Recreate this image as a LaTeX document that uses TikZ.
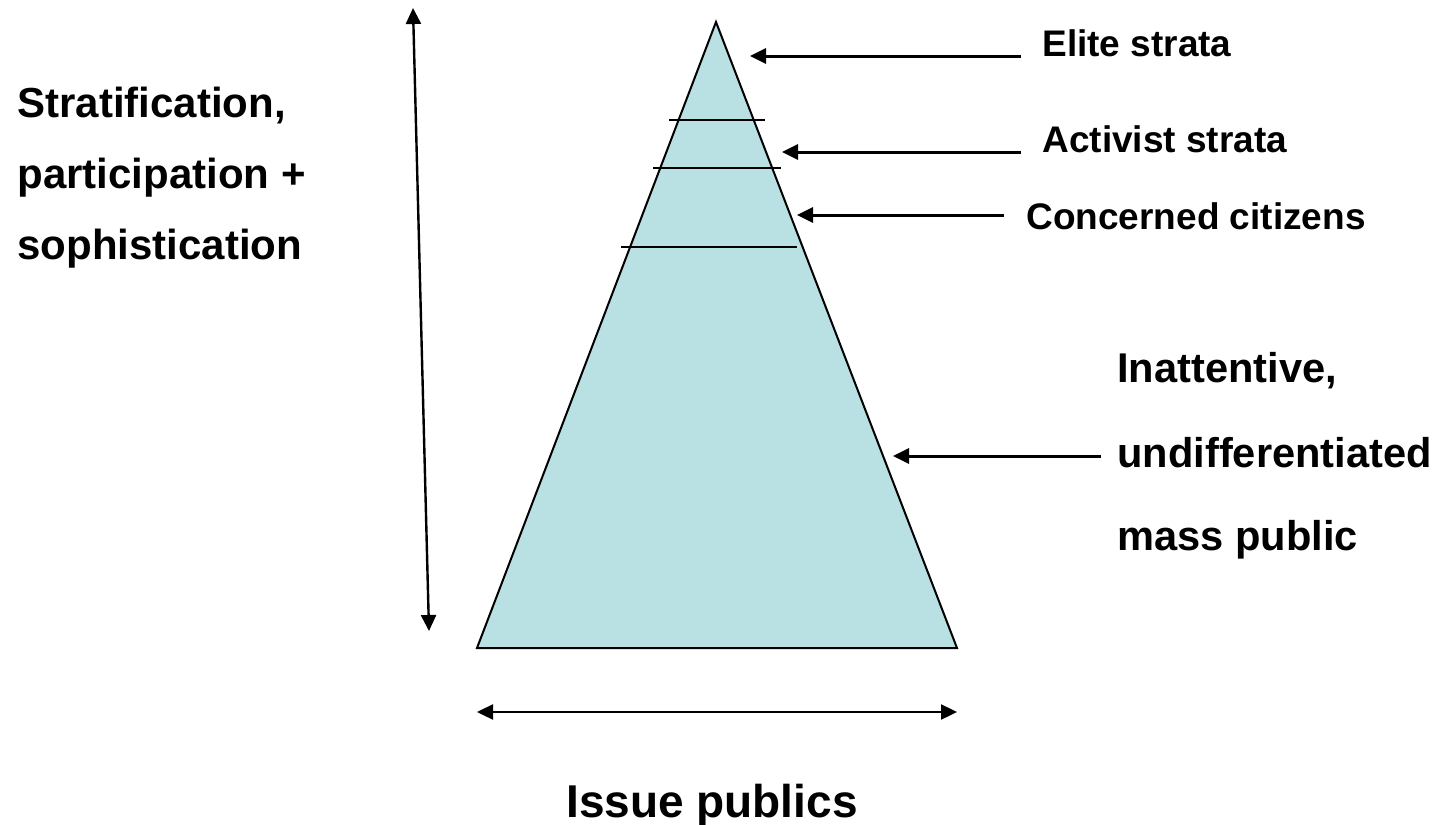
\documentclass[tikz,border=0pt]{standalone}
\usepackage{fontspec}
\setmainfont{Liberation Sans}
\usetikzlibrary{arrows.meta}
\definecolor{pyr}{RGB}{185,224,227}
\begin{document}
\begin{tikzpicture}[x=0.5pt,y=-0.5pt,
  arr/.style={line width=1.5pt,-{Triangle[length=8pt,width=7.5pt]}},
  darr/.style={line width=1.2pt,{Triangle[length=8pt,width=7.5pt]}-{Triangle[length=8pt,width=7.5pt]}},
  strat/.style={line width=1pt},
  lab/.style={inner sep=0pt,anchor=base west,font=\bfseries\fontsize{18.5}{22}\selectfont},
  big/.style={inner sep=0pt,anchor=base west,font=\bfseries\fontsize{20.8}{25}\selectfont},
  side/.style={inner sep=0pt,anchor=base west,font=\bfseries\fontsize{21}{25}\selectfont}]
\useasboundingbox (0,0) rectangle (1448,825);
% pyramid
\coordinate (apex) at (716,22);
\coordinate (bl) at (477,648);
\coordinate (br) at (957,648);
\filldraw[fill=pyr,draw=black,line width=1pt,line join=miter] (apex) -- (bl) -- (br) -- cycle;
% strata lines
\coordinate (s1a) at (669,120); \coordinate (s1b) at (765,120);
\coordinate (s2a) at (653,168); \coordinate (s2b) at (781,168);
\coordinate (s3a) at (621,247); \coordinate (s3b) at (797,247);
\draw[strat] (s1a) -- (s1b);
\draw[strat] (s2a) -- (s2b);
\draw[strat] (s3a) -- (s3b);
% right labels
\node[lab] (elite) at (1042,56) {Elite strata};
\node[lab] (activ) at (1042,152) {Activist strata};
\node[lab] (conc) at (1026,229) {Concerned citizens};
\node[big] (in1) at (1117,382) {Inattentive,};
\node[big] (in2) at (1117,467) {undifferentiated};
\node[big] (in3) at (1117,550) {mass public};
% arrows to pyramid
\coordinate (eS) at (1021,56); \coordinate (eT) at (750,56);
\coordinate (aS) at (1021,152); \coordinate (aT) at (782,152);
\coordinate (cS) at (1004,215); \coordinate (cT) at (797,215);
\coordinate (iS) at (1101,456); \coordinate (iT) at (893,456);
\draw[arr] (eS) -- (eT);
\draw[arr] (aS) -- (aT);
\draw[arr] (cS) -- (cT);
\draw[arr] (iS) -- (iT);
% left labels
\node[side] (l1) at (17,117) {Stratification,};
\node[side] (l2) at (17,188) {participation +};
\node[side] (l3) at (17,259) {sophistication};
% vertical arrow
\coordinate (vT) at (413,8); \coordinate (vB) at (429,631);
\draw[darr] (vT) -- (vB);
% horizontal arrow
\coordinate (hL) at (477,712); \coordinate (hR) at (957,712);
\draw[darr] (hL) -- (hR);
\node[inner sep=0pt,anchor=base,font=\bfseries\fontsize{23}{28}\selectfont] (issue) at (712,817) {Issue publics};
\end{tikzpicture}
\end{document}
